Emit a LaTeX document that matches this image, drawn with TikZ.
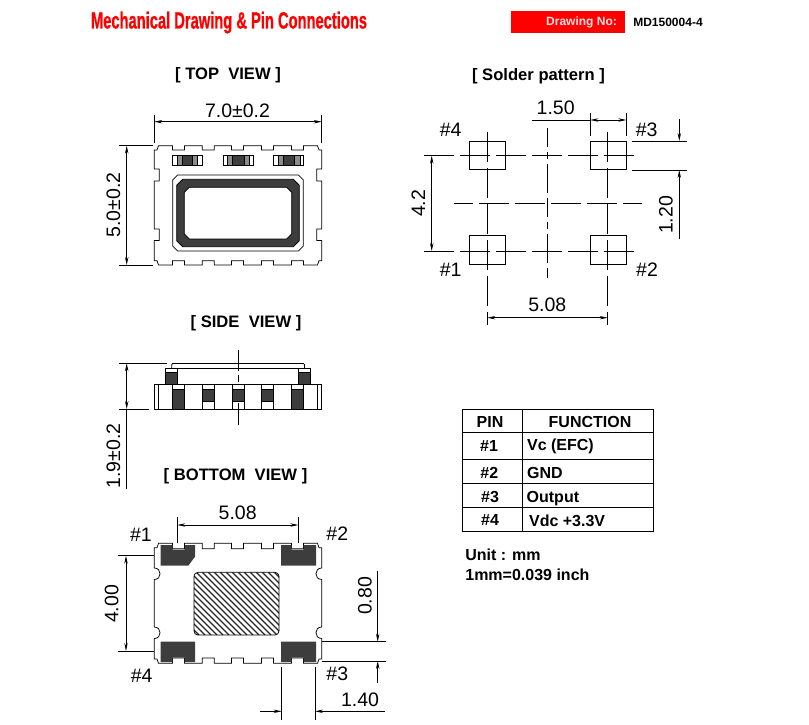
\documentclass[tikz,border=0pt]{standalone}
\usepackage{fontspec}
\usepackage{graphicx}
\setmainfont{Liberation Sans}
\usetikzlibrary{arrows.meta}
\definecolor{padgray}{gray}{0.24}
\newcommand{\chamfrect}[5]{(#1+#5,#2) -- (#3-#5,#2) -- (#3,#2+#5) -- (#3,#4-#5) -- (#3-#5,#4) -- (#1+#5,#4) -- (#1,#4-#5) -- (#1,#2+#5) -- cycle}
\begin{document}
\begin{tikzpicture}[x=1pt, y=-1pt, line width=0.75pt,
	>={Stealth[length=8pt,width=3.4pt]},
	dimtxt/.style={inner sep=0pt, font=\fontsize{19.5}{20}\selectfont},
	headtxt/.style={inner sep=0pt, font=\fontsize{16.6}{17}\selectfont\bfseries},
	celltxt/.style={inner sep=0pt, font=\fontsize{16}{17}\selectfont\bfseries},
	center line/.style={dash pattern=on 29.5pt off 6.5pt},
	pad/.style={fill=padgray, draw=none}]
	\useasboundingbox (0,0) rectangle (809,725);

	% header
	\node[inner sep=0pt, text=red] (title) at (229,22.5) {\resizebox{276pt}{1.2\height}{\fontsize{19.5}{20}\selectfont\bfseries\addfontfeature{FakeBold=1}Mechanical Drawing \& Pin Connections}};
	\fill[red] (511,11) rectangle (625,33);
	\node[inner sep=0pt, text=red!12, font=\fontsize{12}{13}\selectfont\bfseries] (drawno) at (581.5,22) {Drawing No:};
	\node[inner sep=0pt, font=\fontsize{12}{13}\selectfont\bfseries] (mdno) at (668,22) {MD150004-4};

	\node[headtxt] (toptitle) at (228,75) {[ TOP\ \ VIEW ]};
	\node[headtxt] (soldertitle) at (538.5,76) {[ Solder pattern ]};
	\node[headtxt] (sidetitle) at (246,323) {[ SIDE\ \ VIEW ]};
	\node[headtxt] (bottomtitle) at (235.5,476) {[ BOTTOM\ \ VIEW ]};

	% top view
	\draw (154.3,150) -- (157,150) -- (158.5,145.7)
		\foreach \nx in {178.5,208.2,237.5,267.5,297.5} { -- (\nx-6,145.7) -- (\nx-6,150) -- (\nx+6,150) -- (\nx+6,145.7) }
		-- (317.5,145.7) -- (319,150) -- (321.7,150) -- (321.7,169)
		-- (316.7,169) -- (316.7,181) -- (321.7,181) -- (321.7,229)
		-- (316.7,229) -- (316.7,240.5) -- (321.7,240.5) -- (321.7,260.7)
		-- (319,260.7) -- (317.5,265)
		\foreach \nx in {297.5,267.5,237.5,208.2,178.5} { -- (\nx+6,265) -- (\nx+6,260.7) -- (\nx-6,260.7) -- (\nx-6,265) }
		-- (158.5,265) -- (157,260.7) -- (154.3,260.7) -- (154.3,240.5)
		-- (159.3,240.5) -- (159.3,229) -- (154.3,229) -- (154.3,181)
		-- (159.3,181) -- (159.3,169) -- (154.3,169) -- cycle;
	\foreach \bx/\dxa/\dxb/\lxa/\lxb in {172.7/177.3/197.7/182.7/192.7, 223.3/227.3/249/232.7/244, 273.3/278.3/300/283.3/294.5} {
		\draw (\bx,155) rectangle (\bx+30,165);
		\draw[fill=black!45] (\dxa,155) rectangle (\dxb,165);
		\draw[fill=padgray] (\lxa,155) rectangle (\lxb,165);
	}
	\draw \chamfrect{172.7}{175}{303.3}{251}{5};
	\fill[padgray, even odd rule] \chamfrect{176.7}{179.3}{299.3}{246.7}{6} \chamfrect{184.3}{187.3}{291.7}{239}{5};
	\draw \chamfrect{176.7}{179.3}{299.3}{246.7}{6};
	\draw \chamfrect{184.3}{187.3}{291.7}{239}{5};

	\draw (154.3,115) -- (154.3,143) (321.7,115) -- (321.7,143);
	\draw[<->] (154.3,121.7) -- (321.7,121.7);
	\node[dimtxt] (topw) at (237.5,110.5) {7.0±0.2};
	\draw (119,145.7) -- (152.7,145.7) (119,265) -- (152.7,265);
	\draw[<->] (126.7,145.7) -- (126.7,265);
	\node[dimtxt, rotate=90] (toph) at (113.3,205) {5.0±0.2};

	% side view
	\draw (154.3,384.3) rectangle (321.7,409);
	\draw (158.3,384.3) -- (158.3,409) (317.7,384.3) -- (317.7,409);
	\draw (172,363.3) -- (304,363.3) (177.7,368) -- (298.3,368);
	\draw (171.7,368) -- (171.7,364.5) -- (173,363.3) (304.5,368) -- (304.5,364.5) -- (303,363.3);
	\foreach \bx in {165,298.3} {
		\draw (\bx,368) rectangle (\bx+12.5,384.3);
		\draw[fill=padgray] (\bx,372.3) rectangle (\bx+12.5,384.3);
	}
	\foreach \bx in {172.7,291.7} {
		\draw (\bx,384.3) rectangle (\bx+12,409);
		\draw[fill=padgray] (\bx,389) rectangle (\bx+12,409);
	}
	\foreach \bx in {202.3,232,261.7} {
		\draw (\bx,384.3) rectangle (\bx+12,409);
		\draw[fill=padgray] (\bx,389) rectangle (\bx+12,401.7);
	}
	\draw (238.3,350) -- (238.3,370.7) (238.3,375) -- (238.3,381.7) (238.3,403.3) -- (238.3,425);
	\draw (119,363.3) -- (167,363.3) (119,409) -- (149.3,409);
	\draw[<->] (126.7,363.3) -- (126.7,409);
	\draw (126.7,409) -- (126.7,489);
	\node[dimtxt, rotate=90] (sideh) at (113.3,456) {1.9±0.2};

	% bottom view
	\draw (154.3,547.7) -- (157,547.7) -- (158.5,543.3)
		\foreach \nx in {178.5,208.2,237.5,267.5,297.5} { -- (\nx-6,543.3) -- (\nx-6,548.7) -- (\nx+6,548.7) -- (\nx+6,543.3) }
		-- (317.5,543.3) -- (319,547.7) -- (321.7,547.7) -- (321.7,568)
		.. controls (314,568) and (314,579.5) .. (321.7,579.5) -- (321.7,627)
		.. controls (314,627) and (314,638.5) .. (321.7,638.5) -- (321.7,659)
		-- (319,659) -- (317.5,663.3)
		\foreach \nx in {297.5,267.5,237.5,208.2,178.5} { -- (\nx+6,663.3) -- (\nx+6,658) -- (\nx-6,658) -- (\nx-6,663.3) }
		-- (158.5,663.3) -- (157,659) -- (154.3,659) -- (154.3,638.5)
		.. controls (162,638.5) and (162,627) .. (154.3,627) -- (154.3,579.5)
		.. controls (162,579.5) and (162,568) .. (154.3,568) -- cycle;
	\fill[pad] (160.7,545.2) -- (172.5,545.2) -- (172.5,549.5) -- (184.5,549.5) -- (184.5,545.2) -- (195,545.2) -- (195,556.7) -- (188.3,565.7) -- (160.7,565.7) -- cycle;
	\fill[pad] (281,545.2) -- (291.5,545.2) -- (291.5,549.5) -- (303.5,549.5) -- (303.5,545.2) -- (316,545.2) -- (316,565.7) -- (281,565.7) -- cycle;
	\fill[pad] (160.7,641.7) -- (195,641.7) -- (195,662) -- (184.5,662) -- (184.5,657.5) -- (172.5,657.5) -- (172.5,662) -- (160.7,662) -- cycle;
	\fill[pad] (281,641.7) -- (316,641.7) -- (316,662) -- (303.5,662) -- (303.5,657.5) -- (291.5,657.5) -- (291.5,662) -- (281,662) -- cycle;
	\begin{scope}
		\clip[rounded corners=4pt] (194,572.3) rectangle (279,635);
		\foreach \hx in {100,106,...,280}
			\draw[line width=1.2pt, black!85] (\hx,572) -- (\hx+63,635);
	\end{scope}
	\draw[rounded corners=4pt] (194,572.3) rectangle (279,635);

	\draw (177.3,517) -- (177.3,543) (298.3,517) -- (298.3,543);
	\draw[<->] (177.3,525) -- (298.3,525);
	\node[dimtxt] (botw) at (237.7,513) {5.08};
	\node[dimtxt] (bot1) at (141,535) {\#1};
	\node[dimtxt] (bot2) at (337.3,534) {\#2};
	\node[dimtxt] (bot4) at (141.7,675.7) {\#4};
	\node[dimtxt] (bot3) at (337.3,674) {\#3};
	\draw (118.3,555.7) -- (154.3,555.7) (118.3,651) -- (154.3,651);
	\draw[<->] (126,555.7) -- (126,651);
	\node[dimtxt, rotate=90] (both) at (111.7,604) {4.00};
	\draw (321.7,641.7) -- (386,641.7) (321.7,661) -- (386,661);
	\draw[->] (377.7,570.7) -- (377.7,641.7);
	\draw[->] (377.7,682.7) -- (377.7,661);
	\node[dimtxt, rotate=90] (padh) at (365,596) {0.80};
	\draw (281.7,667) -- (281.7,720) (315,667) -- (315,720);
	\draw[->] (260,711.3) -- (281.7,711.3);
	\draw[->] (385,711.3) -- (315,711.3);
	\node[dimtxt] (padw) at (360,700) {1.40};

	% solder pattern
	\foreach \px in {469,590.3} \foreach \py in {141,235.7}
		\draw (\px,\py) rectangle (\px+36,\py+28.7);
	\draw[center line] (424,155.7) -- (636,155.7);
	\draw[center line] (424,251) -- (636,251);
	\draw[center line, dash phase=10.7pt] (454,203.7) -- (641.7,203.7);
	\draw[center line] (487.3,132.3) -- (487.3,325);
	\draw[center line] (607.7,132.3) -- (607.7,325);
	\draw[dash pattern=on 19pt off 5pt on 7pt off 5pt on 29pt off 5pt] (547.3,128.3) -- (547.3,278.3);

	\draw (590.3,112.7) -- (590.3,136) (626.3,112.7) -- (626.3,136);
	\draw (531.7,120) -- (590.3,120);
	\draw[<->] (590.3,120) -- (626.3,120);
	\node[dimtxt] (solw) at (555.7,107.3) {1.50};
	\node[dimtxt] (sol4) at (450.7,130) {\#4};
	\node[dimtxt] (sol3) at (646.7,130) {\#3};
	\node[dimtxt] (sol1) at (450.7,270) {\#1};
	\node[dimtxt] (sol2) at (647,269.3) {\#2};
	\draw[<->] (431.7,155.7) -- (431.7,251);
	\node[dimtxt, rotate=90] (solh) at (418.3,203.3) {4.2};
	\draw (631.7,141) -- (686.7,141) (631.7,170) -- (686.7,170);
	\draw[->] (679.3,119.3) -- (679.3,141);
	\draw[->] (679.3,239) -- (679.3,170);
	\node[dimtxt, rotate=90] (solpad) at (666,215) {1.20};
	\draw[<->] (487.3,317.7) -- (607.7,317.7);
	\node[dimtxt] (solpitch) at (547.3,305) {5.08};

	% pin table
	\draw (462.3,409) rectangle (653.3,531);
	\draw (522,409) -- (522,531);
	\foreach \ry in {432.7,459.3,483.3,507.3}
		\draw (462.3,\ry) -- (653.3,\ry);
	\node[celltxt] (pinhd) at (490,421.7) {PIN};
	\node[celltxt] (funchd) at (590,421.7) {FUNCTION};
	\node[celltxt] (pin1) at (489,446) {\#1};
	\node[celltxt] (pin2) at (489.3,472.7) {\#2};
	\node[celltxt] (pin3) at (490,496.7) {\#3};
	\node[celltxt] (pin4) at (490,520) {\#4};
	\node[celltxt, anchor=west] (func1) at (526.7,446) {Vc (EFC)};
	\node[celltxt, anchor=west] (func2) at (526.7,472.7) {GND};
	\node[celltxt, anchor=west] (func3) at (526.3,498.5) {Output};
	\node[celltxt, anchor=west] (func4) at (528.7,521) {Vdc +3.3V};
	\node[celltxt, anchor=west] (unit) at (465,555) {Unit : mm};
	\node[celltxt, anchor=west] (inch) at (465,574.7) {1mm=0.039 inch};
\end{tikzpicture}
\end{document}
